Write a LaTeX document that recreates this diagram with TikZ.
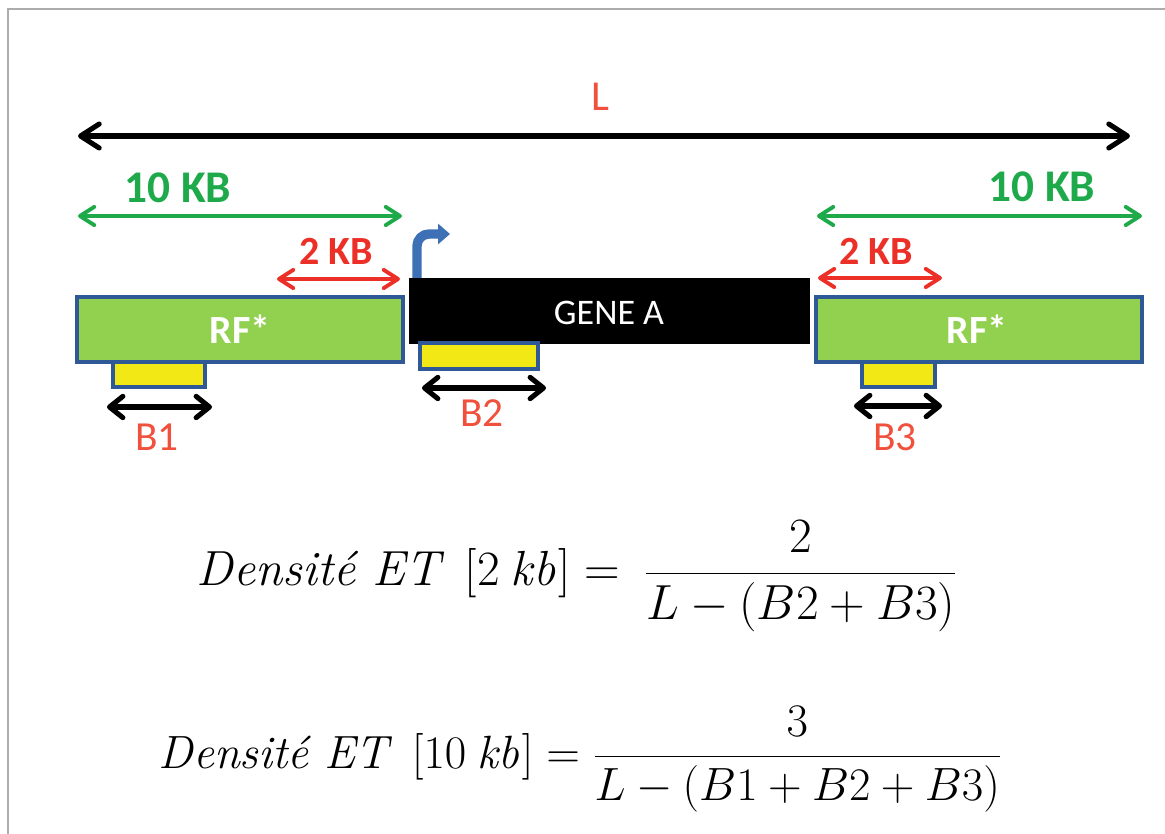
\RequirePackage{fix-cm}
\documentclass[tikz,border=0pt]{standalone}
\usepackage{amsmath}
\usepackage[no-math]{fontspec}
\setmainfont{Carlito}
\newfontfamily\lmfont{Latin Modern Roman}
\usetikzlibrary{arrows.meta}

\definecolor{kbgreen}{RGB}{30,170,75}
\definecolor{kbred}{RGB}{236,48,40}
\definecolor{lblred}{RGB}{240,80,60}
\definecolor{rfgreen}{RGB}{146,208,80}
\definecolor{edgeblue}{RGB}{46,88,150}
\definecolor{siteyellow}{RGB}{242,232,22}
\definecolor{tssblue}{RGB}{62,112,182}

\newcommand{\densword}{\text{\lmfont\itshape Densité ET}}

\begin{document}
\begin{tikzpicture}[x=0.75pt, y=-0.75pt,
  spanL/.style    = {line width=3.8pt,
                     {Straight Barb[round,length=14pt,width=18pt]}-{Straight Barb[round,length=14pt,width=18pt]}},
  spanKB/.style   = {line width=2.9pt,
                     {Straight Barb[round,length=11pt,width=14pt]}-{Straight Barb[round,length=11pt,width=14pt]}},
  spanB/.style    = {line width=3.8pt,
                     {Straight Barb[round,length=10pt,width=16pt]}-{Straight Barb[round,length=10pt,width=16pt]}},
  rfbox/.style    = {fill=rfgreen, draw=edgeblue, line width=2.4pt},
  sitebox/.style  = {fill=siteyellow, draw=edgeblue, line width=2.4pt},
  kbtext/.style   = {font=\fontsize{30}{34}\bfseries\selectfont, inner sep=0pt},
  btext/.style    = {lblred, font=\fontsize{31}{34}\selectfont, inner sep=0pt},
  formula/.style  = {font=\fontsize{36}{42}\selectfont, inner sep=0pt}]
  \useasboundingbox (0,0) rectangle (1165,834);
  % frame
  \draw[gray!65, line width=1.6pt] (8,834) -- (8,9) -- (1166,9);

  % total length L
  \coordinate (Lw) at (78,136);
  \coordinate (Le) at (1130,136);
  \draw[spanL] (Lw) -- (Le);
  \node[btext, font=\fontsize{32}{34}\selectfont] (Ltext) at (600,97) {L};

  % 10 kb windows
  \coordinate (tenLw) at (78,216);
  \coordinate (tenLe) at (402,216);
  \coordinate (tenRw) at (817,216);
  \coordinate (tenRe) at (1142,216);
  \draw[spanKB, kbgreen] (tenLw) -- (tenLe);
  \draw[spanKB, kbgreen] (tenRw) -- (tenRe);
  \node[kbtext, kbgreen, font=\fontsize{34}{36}\bfseries\selectfont] (tenL) at (178,188) {10 KB};
  \node[kbtext, kbgreen, font=\fontsize{34}{36}\bfseries\selectfont] (tenR) at (1042,187) {10 KB};

  % 2 kb windows
  \coordinate (twoLw) at (277,279);
  \coordinate (twoLe) at (400,279);
  \coordinate (twoRw) at (818,278);
  \coordinate (twoRe) at (942,278);
  \draw[spanKB, kbred] (twoLw) -- (twoLe);
  \draw[spanKB, kbred] (twoRw) -- (twoRe);
  \node[kbtext, kbred] (twoL) at (336,251) {2 KB};
  \node[kbtext, kbred] (twoR) at (876,251) {2 KB};

  % transcription start
  \coordinate (tssfoot) at (417,290);
  \coordinate (tsshead) at (450,234);
  \draw[tssblue, line width=7pt, rounded corners=9pt,
        -{Triangle[length=9pt,width=15pt]}] (tssfoot) |- (tsshead);

  % gene and flanking regions
  \fill[black] (409,278) rectangle (810,344);
  \node[white, font=\fontsize{27}{30}\selectfont, inner sep=0pt] (gene) at (609,313) {GENE A};
  \draw[rfbox] (77,297) rectangle (403,362);
  \draw[rfbox] (816,297) rectangle (1142,362);
  \node[kbtext, white] (rfL) at (240,329) {RF*};
  \node[kbtext, white] (rfR) at (977,329) {RF*};

  % insertion sites
  \draw[sitebox] (113,362) rectangle (205,387);
  \draw[sitebox] (420,343) rectangle (538,369);
  \draw[sitebox] (862,362) rectangle (935,387);

  \coordinate (bOnew) at (107,407);
  \coordinate (bOnee) at (212,407);
  \coordinate (bTwow) at (422,388);
  \coordinate (bTwoe) at (546,388);
  \coordinate (bThrw) at (854,406);
  \coordinate (bThre) at (942,406);
  \draw[spanB] (bOnew) -- (bOnee);
  \draw[spanB] (bTwow) -- (bTwoe);
  \draw[spanB] (bThrw) -- (bThre);
  \node[btext] (bOne) at (157,437) {B1};
  \node[btext] (bTwo) at (482,413) {B2};
  \node[btext] (bThr) at (895,437) {B3};

  % densities
  \node[formula, font=\fontsize{37}{42}\selectfont] (densTwo) at (577,576)
    {$\densword\;\ [2\ \mathit{kb}] = \ \dfrac{2}{L-(B2+B3)}$};
  \node[formula, font=\fontsize{35}{42}\selectfont] (densTen) at (580,759)
    {$\densword\;\ [10\ \mathit{kb}] = \dfrac{3}{L-(B1+B2+B3)}$};
\end{tikzpicture}
\end{document}
